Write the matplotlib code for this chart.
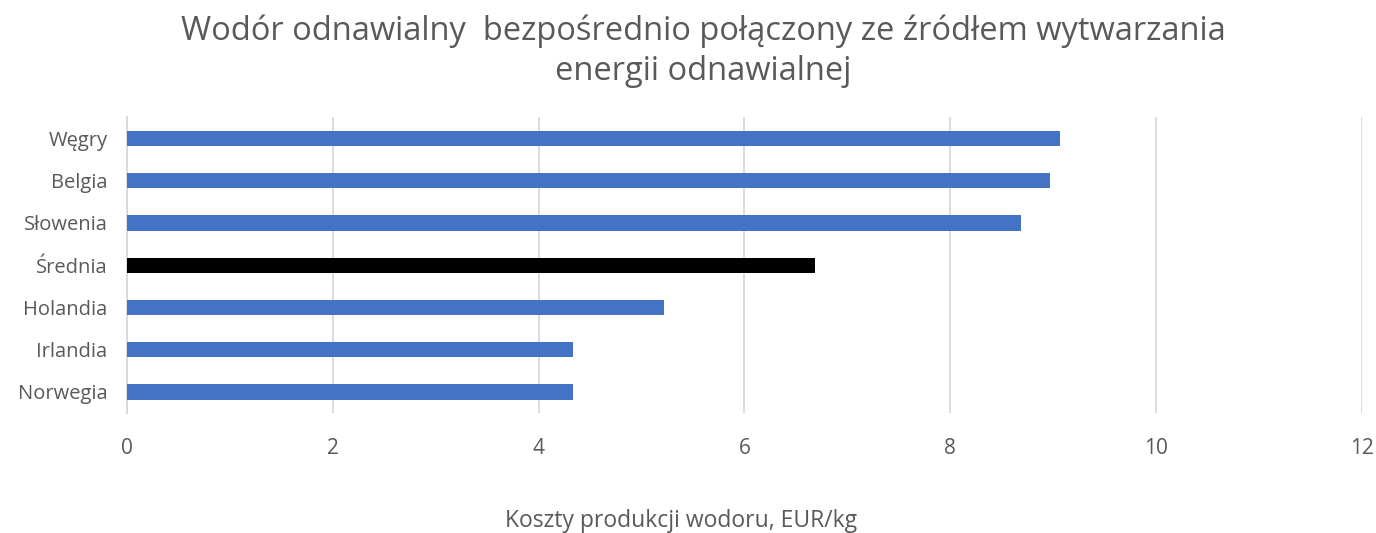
import numpy as np
import matplotlib.pyplot as plt

plt.rcParams['font.family'] = ['Open Sans', 'DejaVu Sans']

countries = ["Węgry", "Belgia", "Słowenia", "Średnia", "Holandia", "Irlandia", "Norwegia"]
costs = [9.07, 8.97, 8.69, 6.69, 5.22, 4.33, 4.33]
colors = ["#4472C4", "#4472C4", "#4472C4", "#000000", "#4472C4", "#4472C4", "#4472C4"]

fig = plt.figure(figsize=(13.76, 5.33), dpi=100)
ax = fig.add_axes([0.0923, 0.225, 0.8975, 0.555])

y = np.arange(len(countries))[::-1]
ax.barh(y, costs, height=0.36, color=colors, zorder=3)

ax.set_xlim(0, 12)
ax.set_ylim(-0.5, len(countries) - 0.5)
ax.set_xticks(range(0, 13, 2))
ax.set_yticks(y)
ax.set_yticklabels(countries)
ax.grid(axis="x", color="#D9D9D9", linewidth=1.3, zorder=0)
for s in ["top", "right", "bottom"]:
    ax.spines[s].set_visible(False)
ax.spines["left"].set_color("#D9D9D9")
ax.spines["left"].set_linewidth(1.3)
ax.tick_params(length=0, labelsize=15, colors="#595959")
ax.tick_params(axis="x", pad=18)
ax.tick_params(axis="y", pad=14)
for lbl in ax.get_yticklabels():
    lbl.set_fontsize(14.5)

fig.text(0.511, 0.904, "Wodór odnawialny  bezpośrednio połączony ze źródłem wytwarzania\nenergii odnawialnej",
         ha="center", va="center", fontsize=23.5, color="#595959", linespacing=1.25)
fig.text(0.495, 0.022, "Koszty produkcji wodoru, EUR/kg", ha="center", va="center",
         fontsize=16.5, color="#595959")

fig.savefig("out.png", dpi=100)
